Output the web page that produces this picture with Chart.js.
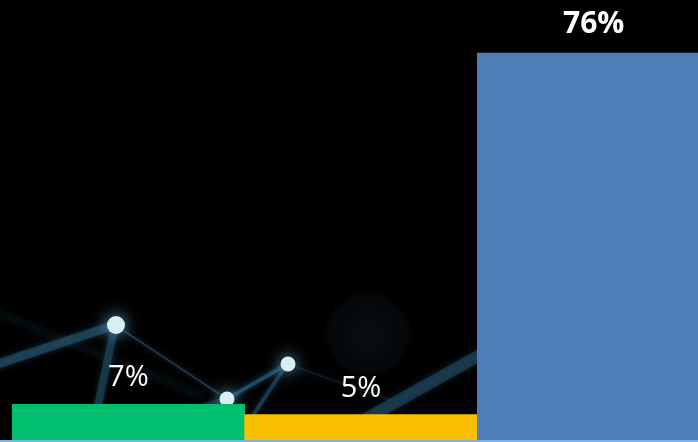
<!DOCTYPE html>
<html>
<head>
<meta charset="utf-8">
<script src="https://cdn.jsdelivr.net/npm/chart.js@4"></script>
<style>
  html, body { margin: 0; padding: 0; background: #000; overflow: hidden; }
  #wrap { position: relative; width: 698px; height: 440px; overflow: hidden; border-bottom: 2px solid #7ab3e6; }
  #myChart { position: absolute; left: 0; top: 0; }
</style>
</head>
<body>
<div id="wrap"><canvas id="myChart" width="710" height="440"></canvas></div>
<script>
const categories = ["A", "B", "C"];
const shares = [7, 5, 76];
const labels = ["7%", "5%", "76%"];
const barColors = ["#00bf6f", "#f9bf00", "#4f7db5"];
const boldLabels = [false, false, true];

// faint network picture behind the bars
const networkBackdrop = {
  id: "networkBackdrop",
  beforeDatasetsDraw(chart) {
    const ctx = chart.ctx;
    ctx.save();
    ctx.fillStyle = "#000";
    ctx.fillRect(0, 0, chart.width, chart.height);

    // dim blurred circle
    const g = ctx.createRadialGradient(368, 335, 0, 368, 335, 48);
    g.addColorStop(0, "rgba(20,30,40,0.5)");
    g.addColorStop(0.8, "rgba(14,20,28,0.35)");
    g.addColorStop(1, "rgba(0,0,0,0)");
    ctx.fillStyle = g;
    ctx.beginPath();
    ctx.arc(368, 335, 48, 0, Math.PI * 2);
    ctx.fill();

    const seg = (x1, y1, x2, y2, w, a) => {
      ctx.strokeStyle = `rgba(40,90,120,${a})`;
      ctx.lineWidth = w;
      ctx.shadowColor = "rgba(60,130,170,0.6)";
      ctx.shadowBlur = 6;
      ctx.beginPath();
      ctx.moveTo(x1, y1);
      ctx.lineTo(x2, y2);
      ctx.stroke();
    };
    ctx.lineCap = "round";
    seg(-5, 312, 200, 395, 10, 0.07);
    seg(-5, 365, 115, 325, 9, 0.55);
    seg(115, 325, 95, 420, 8, 0.45);
    seg(115, 325, 227, 399, 2, 0.6);
    seg(227, 399, 287, 364, 4, 0.6);
    seg(220, 402, 285, 367, 2, 0.5);
    seg(287, 364, 250, 420, 4, 0.55);
    seg(287, 364, 390, 400, 2, 0.25);
    seg(160, 420, 227, 399, 6, 0.35);
    seg(355, 425, 480, 355, 12, 0.45);

    const node = (x, y, r) => {
      ctx.shadowColor = "rgba(90,170,210,1)";
      ctx.shadowBlur = 16;
      ctx.fillStyle = "#d8eef5";
      ctx.beginPath();
      ctx.arc(x, y, r, 0, Math.PI * 2);
      ctx.fill();
    };
    node(116, 325, 9);
    node(288, 364, 7.5);
    node(227, 399, 7.5);
    ctx.restore();
  }
};

// percentage text above each bar
const barLabels = {
  id: "barLabels",
  afterDatasetsDraw(chart) {
    const ctx = chart.ctx;
    const meta = chart.getDatasetMeta(0);
    ctx.save();
    ctx.fillStyle = "#fff";
    ctx.textAlign = "center";
    ctx.textBaseline = "alphabetic";
    meta.data.forEach((bar, i) => {
      ctx.font = (boldLabels[i] ? "bold 30px" : "29px") + " 'Open Sans', sans-serif";
      ctx.fillText(labels[i], bar.x, bar.y - (boldLabels[i] ? 20 : 18));
    });
    ctx.restore();
  }
};

const ctx = document.getElementById("myChart").getContext("2d");
const myChart = new Chart(ctx, {
  type: "bar",
  data: {
    labels: categories,
    datasets: [
      {
        data: shares,
        backgroundColor: barColors,
        borderWidth: 0,
        barPercentage: 1,
        categoryPercentage: 1,
      },
    ],
  },
  options: {
    responsive: false,
    animation: false,
    layout: { padding: { left: 12, top: 0, right: 0, bottom: 0 } },
    scales: {
      x: { display: false },
      y: { display: false, min: 0, max: 86.4 },
    },
    plugins: {
      legend: { display: false },
      tooltip: { enabled: false },
    },
  },
  plugins: [networkBackdrop, barLabels],
});
</script>
</body>
</html>
